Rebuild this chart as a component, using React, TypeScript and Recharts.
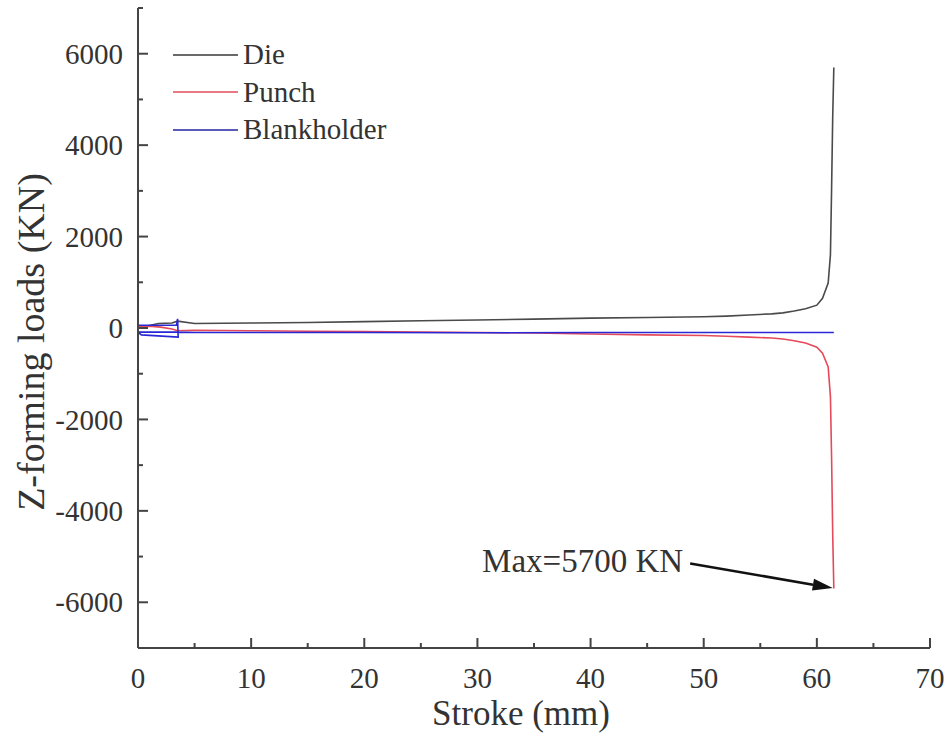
import { LineChart, Line, XAxis, YAxis, Legend, ReferenceLine } from "recharts";

const serif = "Liberation Serif";

// Die curve
const dieStroke = [0, 1.8, 3, 3.5, 5, 10, 15, 20, 25, 30, 35, 40, 45, 50, 52, 54, 56, 57, 58, 59, 60, 60.5, 61, 61.2, 61.3, 61.4, 61.5];
const dieLoad = [0, 100, 110, 150, 100, 110, 120, 140, 160, 175, 195, 215, 230, 245, 260, 285, 310, 330, 370, 420, 500, 650, 985, 1600, 3000, 4600, 5700];

// Punch curve
const punchStroke = [0, 1, 2, 3, 3.5, 5, 10, 15, 20, 25, 30, 35, 40, 45, 50, 52, 54, 56, 57, 58, 59, 60, 60.5, 61, 61.2, 61.3, 61.4, 61.5];
const punchLoad = [30, 40, 20, -20, -60, -50, -60, -70, -80, -90, -100, -110, -130, -150, -165, -180, -200, -220, -240, -280, -330, -420, -550, -850, -1500, -2800, -4500, -5700];

// Blankholder curve (loops back near the start)
const blankStroke = [0, 3.4, 3.5, 3.55, 0.3, 0, 3.6, 5, 10, 20, 30, 40, 50, 55, 61.5];
const blankLoad = [60, 60, 200, -200, -150, -90, -90, -100, -100, -100, -105, -100, -100, -100, -100];

const xTicks = [0, 5, 10, 15, 20, 25, 30, 35, 40, 45, 50, 55, 60, 65, 70];
const yTicks = [-7000, -6000, -5000, -4000, -3000, -2000, -1000, 0, 1000, 2000, 3000, 4000, 5000, 6000, 7000];

// annotation: arrow from label to the max punch load
const arrowFrom = { x: 48.8, y: -5150 };
const arrowTo = { x: 61.4, y: -5690 };
const maxLabel = "Max=5700 KN";

const series = [
  { name: "Die", color: "#4a4a4a", legend: "#6a6a6a", data: dieStroke.map((x, i) => ({ x, y: dieLoad[i] })) },
  { name: "Punch", color: "#e5495a", legend: "#e87a86", data: punchStroke.map((x, i) => ({ x, y: punchLoad[i] })) },
  { name: "Blankholder", color: "#2828d4", legend: "#5a5ab8", data: blankStroke.map((x, i) => ({ x, y: blankLoad[i] })) },
];

const axisColor = "#444";

function XTick({ x, y, payload }: any) {
  const major = payload.value % 10 === 0;
  return (
    <g>
      <line x1={x} y1={y} x2={x} y2={y - (major ? 10 : 5)} stroke={axisColor} strokeWidth={2} />
      {major && (
        <text x={x} y={y + 40} textAnchor="middle" style={{ fontFamily: serif, fontSize: 29 }} fill="#333">
          {payload.value}
        </text>
      )}
    </g>
  );
}

function YTick({ x, y, payload }: any) {
  const major = payload.value % 2000 === 0;
  return (
    <g>
      <line x1={x} y1={y} x2={x + (major ? 10 : 5)} y2={y} stroke={axisColor} strokeWidth={2} />
      {major && (
        <text x={x - 15} y={y} dy="0.35em" textAnchor="end" style={{ fontFamily: serif, fontSize: 29 }} fill="#333">
          {payload.value}
        </text>
      )}
    </g>
  );
}

function LegendBox() {
  return (
    <div style={{ fontFamily: serif, fontSize: 29, color: "#333", lineHeight: "37.5px" }}>
      {series.map((s) => (
        <div key={s.name} style={{ display: "flex", alignItems: "center" }}>
          <span style={{ display: "inline-block", width: 65, height: 2, background: s.legend, marginRight: 5 }} />
          <span>{s.name}</span>
        </div>
      ))}
    </div>
  );
}

function Arrow(props: any) {
  const { x1, y1, x2, y2 } = props;
  const dx = x2 - x1;
  const dy = y2 - y1;
  const len = Math.sqrt(dx * dx + dy * dy);
  const ux = dx / len;
  const uy = dy / len;
  const hl = 20;
  const hw = 6;
  const bx = x2 - ux * hl;
  const by = y2 - uy * hl;
  return (
    <g>
      <line x1={x1} y1={y1} x2={bx} y2={by} stroke="#111" strokeWidth={2.5} />
      <polygon
        points={`${x2},${y2} ${bx - uy * hw},${by + ux * hw} ${bx + uy * hw},${by - ux * hw}`}
        fill="#111"
      />
      <text x={x1 - 7} y={y1 + 9} textAnchor="end" style={{ fontFamily: serif, fontSize: 33 }} fill="#333">
        {maxLabel}
      </text>
    </g>
  );
}

export default function App() {
  return (
    <div style={{ position: "absolute", left: 0, top: 0, background: "#fff" }}>
      <LineChart width={948} height={739} margin={{ top: 8, right: 18, bottom: 0, left: 0 }}>
        <XAxis
          dataKey="x"
          type="number"
          domain={[0, 70]}
          ticks={xTicks}
          interval={0}
          height={91}
          tickSize={0}
          tickMargin={0}
          tickLine={false}
          tick={<XTick />}
          axisLine={{ stroke: axisColor, strokeWidth: 2 }}
          allowDataOverflow
          label={(p: any) => (
            <text
              x={p.viewBox.x + p.viewBox.width / 2 - 13}
              y={p.viewBox.y + 77}
              textAnchor="middle"
              style={{ fontFamily: serif, fontSize: 35 }}
              fill="#333"
            >
              Stroke (mm)
            </text>
          )}
        />
        <XAxis xAxisId="top" orientation="top" type="number" domain={[0, 70]} height={0} tick={false} tickLine={false} axisLine={{ stroke: axisColor, strokeWidth: 2 }} />
        <YAxis
          type="number"
          domain={[-7000, 7000]}
          ticks={yTicks}
          interval={0}
          width={138}
          tickSize={0}
          tickMargin={0}
          tickLine={false}
          tick={<YTick />}
          axisLine={{ stroke: axisColor, strokeWidth: 2 }}
          allowDataOverflow
          label={(p: any) => {
            const cx = p.viewBox.x + 31;
            const cy = p.viewBox.y + p.viewBox.height / 2 + 14;
            return (
              <text
                x={cx}
                y={cy}
                dy="0.35em"
                transform={`rotate(-90 ${cx} ${cy})`}
                textAnchor="middle"
                style={{ fontFamily: serif, fontSize: 38 }}
                fill="#333"
              >
                Z-forming loads (KN)
              </text>
            );
          }}
        />
        <YAxis yAxisId="right" orientation="right" type="number" domain={[-7000, 7000]} width={0} tick={false} tickLine={false} axisLine={{ stroke: axisColor, strokeWidth: 2 }} />
        <Legend
          layout="vertical"
          align="center"
          verticalAlign="middle"
          content={<LegendBox />}
          wrapperStyle={{ position: "absolute", left: 173, top: 36, width: 260 }}
        />
        {series.map((s) => (
          <Line
            key={s.name}
            data={s.data}
            dataKey="y"
            name={s.name}
            type="linear"
            stroke={s.color}
            strokeWidth={1.6}
            dot={false}
            isAnimationActive={false}
          />
        ))}
        <ReferenceLine
          segment={[arrowFrom, arrowTo]}
          shape={<Arrow />}
          ifOverflow="visible"
        />
      </LineChart>
    </div>
  );
}
